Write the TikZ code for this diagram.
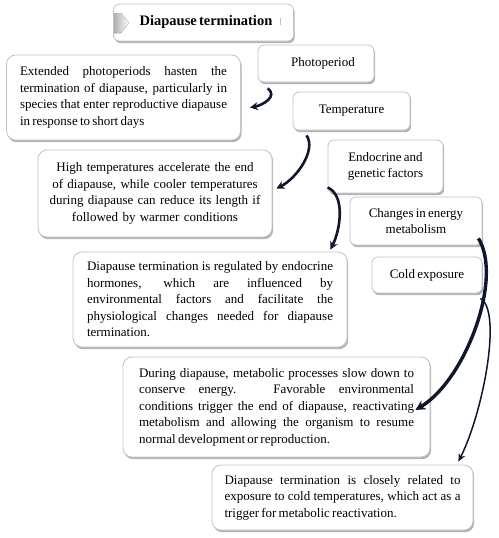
\documentclass[tikz,border=0pt]{standalone}
\usepackage{fontspec}
\setmainfont{Liberation Serif}
\usetikzlibrary{positioning, arrows.meta, shadows, calc}
\definecolor{arrowcolor}{RGB}{15, 22, 45}
\definecolor{framecolor}{RGB}{195, 195, 195}
\definecolor{chevroncolor}{RGB}{175, 175, 175}
\newcommand{\bodyfont}{\fontsize{13}{16.5}\selectfont\spaceskip=0.17em plus 0.8em minus 0.05em\relax}
\newcommand{\titlefont}{\fontsize{14.5}{16}\selectfont\bfseries\spaceskip=0.15em plus 0.3em\relax}

\begin{document}
\begin{tikzpicture}[
    x=1pt, y=-1pt,
    box/.style={rectangle, rounded corners=9pt, draw=framecolor, line width=0.8pt, fill=white,
        drop shadow={shadow xshift=1.2pt, shadow yshift=-2.2pt, opacity=0.6, fill=gray},
        inner sep=0pt, font=\bodyfont},
    factor/.style={box, rounded corners=6pt, align=center},
    textbox/.style={box, align=justify},
    curvearrow/.style={-{Stealth[length=8pt, width=8pt]}, arrowcolor, line width=2.6pt},
]
\useasboundingbox (0,0) rectangle (498,538);

% Title
\node[factor, minimum width=180pt, minimum height=37pt, font=\titlefont] (title) at (203.5, 22.5) {\hspace*{5pt}Diapause termination};
\fill[left color=chevroncolor, right color=white] (114,13) -- (121,13) -- (129,23) -- (121,33) -- (114,33) -- cycle;
\draw[framecolor, line width=0.6pt] (280,18) -- (280,25);

% Factors
\node[factor, minimum width=116pt, minimum height=37pt] (photo) at (316, 63.5) {\hspace*{14pt}Photoperiod};
\node[factor, minimum width=117pt, minimum height=38pt] (temp) at (351.5, 111) {Temperature};
\node[factor, minimum width=115pt, minimum height=53pt] (endo) at (385.5, 166.5) {Endocrine and\\genetic factors};
\node[factor, minimum width=132pt, minimum height=48pt] (energy) at (416, 221) {Changes in energy\\metabolism};
\node[factor, minimum width=110pt, minimum height=36pt] (cold) at (427, 275) {Cold exposure};

% Descriptions
\node[textbox, text width=207pt, minimum width=234pt, minimum height=85pt] (photodesc) at (123.5, 97.5) {%
    Extended photoperiods hasten the\linebreak
    termination of diapause, particularly in\linebreak
    species that enter reproductive diapause\linebreak
    in response to short days};

\node[box, align=center, text width=225pt, minimum width=234pt, minimum height=87pt] (tempdesc) at (155, 193.5) {%
    High temperatures accelerate the end\\
    of diapause, while cooler temperatures\\
    during diapause can reduce its length if\\
    followed by warmer conditions};

\node[textbox, text width=246pt, minimum width=274pt, minimum height=95pt] (endodesc) at (210, 299.5) {%
    Diapause termination is regulated by endocrine\linebreak
    hormones, which are influenced by\linebreak
    environmental factors and facilitate the\linebreak
    physiological changes needed for diapause\linebreak
    termination.};

\node[textbox, text width=275pt, minimum width=307pt, minimum height=100pt] (energydesc) at (276.5, 407) {%
    During diapause, metabolic processes slow down to\linebreak
    conserve energy. Favorable environmental\linebreak
    conditions trigger the end of diapause, reactivating\linebreak
    metabolism and allowing the organism to resume\linebreak
    normal development or reproduction.};

\node[textbox, text width=236pt, minimum width=261pt, minimum height=65pt] (colddesc) at (342.5, 497.5) {%
    Diapause termination is closely related to\linebreak
    exposure to cold temperatures, which act as a\linebreak
    trigger for metabolic reactivation.};

% Arrows
\draw[curvearrow] ([shift={(10,6)}]photo.south west) .. controls +(11,8) and +(12,-2) .. ([shift={(9,10)}]photodesc.east);
\draw[curvearrow] ([shift={(14,5)}]temp.south west) .. controls +(10,15) and +(20,-10) .. ([shift={(4,-5)}]tempdesc.east);
\draw[curvearrow] ([shift={(0,-6)}]endo.south west) .. controls +(18,8) and +(10,-20) .. ([shift={(-17,-2)}]endodesc.north east);
\draw[curvearrow, line width=3.4pt, -{Stealth[length=10pt, width=10pt]}] ([shift={(-4,-7)}]energy.south east) .. controls +(25,40) and +(50,-30) .. ([shift={(-15,3)}]energydesc.east);
\draw[curvearrow, line width=1.5pt, -{Stealth[length=8pt, width=7pt]}] ([shift={(-2,5)}]cold.south east) .. controls +(22,12) and +(25,-50) .. ([shift={(-15,-3)}]colddesc.north east);

\end{tikzpicture}
\end{document}
